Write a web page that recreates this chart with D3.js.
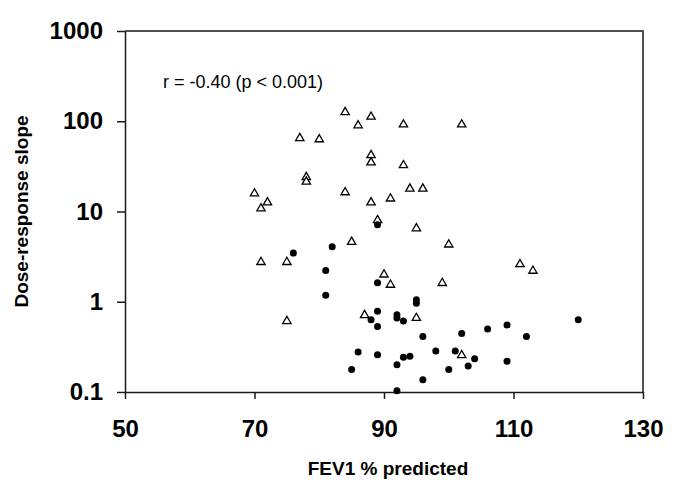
<!DOCTYPE html>
<html>
<head>
  <script src="https://d3js.org/d3.v7.min.js"></script>
  <style>
    body { margin: 0; background: #fff; }
    .chart { font-family: "Liberation Sans", Arial, sans-serif; }
    .axis path, .axis line { stroke: #1a1a1a; stroke-width: 1.5px; }
    .axis text { font-size: 24px; font-weight: bold; fill: #000; }
    .axis-label { font-size: 19px; font-weight: bold; fill: #000; }
    .note { font-size: 18px; fill: #000; }
  </style>
</head>
<body>
  <div id="viz"></div>

  <script>
    // open triangles
    const triX = [84, 88, 86, 93, 102, 77, 80, 88, 88, 93, 78, 78, 70, 84, 94, 96, 72, 71, 88, 91,
                  89, 95, 85, 100, 71, 75, 111, 113, 90, 91, 99, 87, 95, 75, 102];
    const triY = [126, 112, 90, 92, 92, 65, 63, 42, 35, 32.5, 24, 21.4, 15.8, 16.3, 17.9, 17.9, 12.6, 10.8, 12.6, 13.9,
                  8.0, 6.5, 4.6, 4.3, 2.75, 2.75, 2.6, 2.2, 2.0, 1.54, 1.61, 0.71, 0.66, 0.61, 0.255];

    // filled circles
    const dotX = [89, 82, 76, 81, 89, 81, 95, 95, 89, 92, 92, 88, 93, 120, 109, 89, 106, 102, 96, 112,
                  86, 98, 101, 89, 93, 94, 104, 109, 92, 103, 85, 100, 96, 92];
    const dotY = [7.15, 4.07, 3.46, 2.22, 1.62, 1.18, 1.05, 0.965, 0.786, 0.72, 0.66, 0.63, 0.61, 0.63, 0.554, 0.531, 0.50, 0.444, 0.411, 0.411,
                  0.278, 0.285, 0.285, 0.258, 0.243, 0.249, 0.234, 0.219, 0.201, 0.194, 0.177, 0.177, 0.137, 0.1035];

    const xTicks = [50, 70, 90, 110, 130];
    const yTicks = [0.1, 1, 10, 100, 1000];

    const margin = { top: 31, right: 42, bottom: 103, left: 125 },
          width = 685 - margin.left - margin.right,
          height = 495 - margin.top - margin.bottom;

    const svg = d3.select("#viz")
      .append("svg")
        .attr("class", "chart")
        .attr("width", 685)
        .attr("height", 495)
      .append("g")
        .attr("transform", `translate(${margin.left},${margin.top})`);

    const x = d3.scaleLinear().domain([50, 130]).range([0, width]);
    const y = d3.scaleLog().domain([0.1, 1000]).range([height, 0]);

    // frame: top and right borders
    svg.append("path")
      .attr("d", `M0,0H${width}V${height}`)
      .attr("fill", "none")
      .attr("stroke", "#1a1a1a")
      .attr("stroke-width", 1.5);

    // X axis
    svg.append("g")
      .attr("class", "axis")
      .attr("transform", `translate(0,${height})`)
      .call(d3.axisBottom(x).tickValues(xTicks).tickSize(7).tickSizeOuter(0).tickPadding(21).tickFormat(d3.format("d")));

    // Y axis
    svg.append("g")
      .attr("class", "axis")
      .call(d3.axisLeft(y).tickValues(yTicks).tickSize(8).tickSizeOuter(0).tickPadding(14)
        .tickFormat(d => d < 1 ? "0.1" : d3.format("d")(d)));

    // axis labels
    svg.append("text")
      .attr("class", "axis-label")
      .attr("text-anchor", "middle")
      .attr("x", width / 2 + 4)
      .attr("y", 475 - margin.top)
      .text("FEV1 % predicted");

    svg.append("text")
      .attr("class", "axis-label")
      .attr("text-anchor", "middle")
      .attr("transform", "rotate(-90)")
      .attr("x", -height / 2)
      .attr("y", 28 - margin.left)
      .text("Dose-response slope");

    // correlation note
    svg.append("text")
      .attr("class", "note")
      .attr("x", 163 - margin.left)
      .attr("y", 88 - margin.top)
      .text("r = -0.40 (p < 0.001)");

    // triangles
    const tri = d3.symbol().type(d3.symbolTriangle).size(30);
    svg.append("g")
      .selectAll("path")
      .data(triX.map((v, i) => [v, triY[i]]))
      .join("path")
        .attr("d", tri)
        .attr("transform", d => `translate(${x(d[0])},${y(d[1])})`)
        .attr("fill", "#fff")
        .attr("stroke", "#000")
        .attr("stroke-width", 1.3);

    // circles
    svg.append("g")
      .selectAll("circle")
      .data(dotX.map((v, i) => [v, dotY[i]]))
      .join("circle")
        .attr("cx", d => x(d[0]))
        .attr("cy", d => y(d[1]))
        .attr("r", 3.5)
        .attr("fill", "#000");
  </script>
</body>
</html>
